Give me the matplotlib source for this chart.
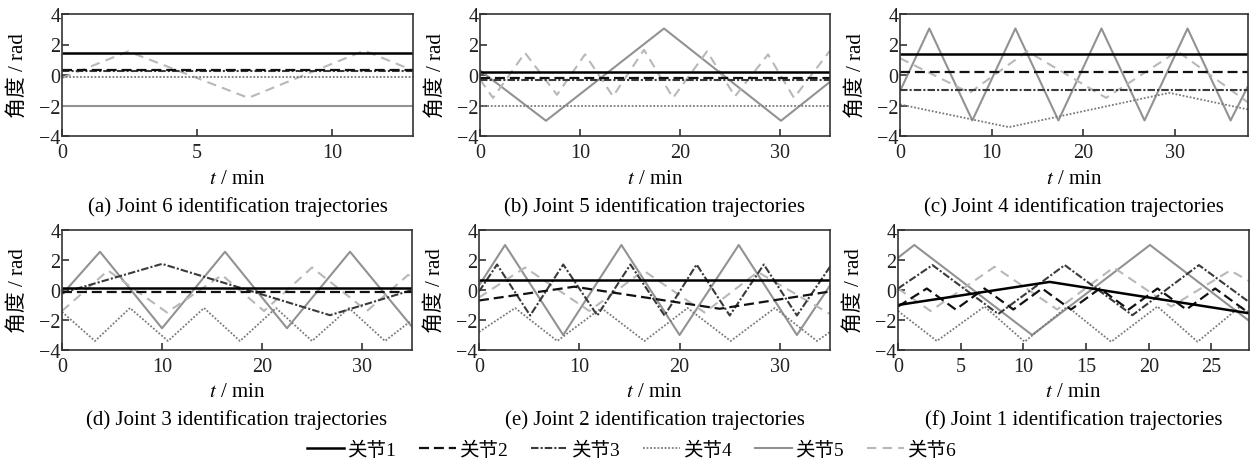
import matplotlib
matplotlib.use("Agg")
import matplotlib.pyplot as plt
from matplotlib.lines import Line2D

plt.rcParams['font.family'] = ['Liberation Serif', 'Noto Sans CJK SC']
plt.rcParams['mathtext.fontset'] = 'stix'
plt.rcParams['axes.unicode_minus'] = True

# ---- data: joint angles (rad) vs time (min), vertices of each trajectory ----
# (a) joint 6 identification
a_xmax = 13
a_t1, a_q1 = [0, 13], [1.45, 1.45]
a_t2, a_q2 = [0, 13], [0.35, 0.35]
a_t3, a_q3 = [0, 13], [0.25, 0.25]
a_t4, a_q4 = [0, 13], [-0.15, -0.15]
a_t5, a_q5 = [0, 13], [-2.05, -2.05]
a_t6 = [0, 2.45, 6.9, 11.2, 13]
a_q6 = [-0.2, 1.55, -1.5, 1.6, 0.3]

# (b) joint 5 identification
b_xmax = 35
b_t1, b_q1 = [0, 35], [0.2, 0.2]
b_t2, b_q2 = [0, 35], [-0.2, -0.2]
b_t3, b_q3 = [0, 35], [-0.3, -0.3]
b_t4, b_q4 = [0, 35], [-2.0, -2.0]
b_t5 = [0, 6.6, 18.4, 30.1, 35]
b_q5 = [0.3, -3.0, 3.05, -3.0, -0.45]
b_t6 = [0, 1.3, 4.5, 7.7, 10.5, 13.3, 16.4, 19.3, 22.7, 25.5, 28.8, 31.4, 35]
b_q6 = [-0.3, -1.5, 1.45, -1.3, 1.35, -1.4, 1.65, -1.5, 1.55, -1.4, 1.35, -1.5, 1.6]

# (c) joint 4 identification
c_xmax = 38
c_t1, c_q1 = [0, 38], [1.4, 1.4]
c_t2, c_q2 = [0, 38], [0.2, 0.2]
c_t3, c_q3 = [0, 38], [-1.0, -1.0]
c_t4 = [0, 11.9, 29.4, 38]
c_q4 = [-1.93, -3.42, -1.17, -2.26]
c_t5 = [0, 3.2, 7.9, 12.6, 17.3, 22.0, 26.7, 31.4, 36.1, 38]
c_q5 = [-1.06, 3.05, -2.98, 3.05, -2.98, 3.05, -2.98, 3.05, -2.98, -0.73]
c_t6 = [0, 7.6, 13.9, 22.5, 30.3, 38]
c_q6 = [1.1, -1.17, 1.56, -1.5, 1.56, -1.8]

# (d) joint 3 identification
d_xmax = 35
d_t1, d_q1 = [0, 35], [0.16, 0.16]
d_t2, d_q2 = [0, 35], [-0.1, -0.1]
d_t3 = [0, 10.0, 26.8, 35]
d_q3 = [-0.2, 1.74, -1.68, 0.0]
d_t4 = [0, 3.3, 6.8, 10.6, 14.2, 17.8, 21.4, 25.0, 28.7, 32.3, 35]
d_q4 = [-1.46, -3.4, -1.2, -3.4, -1.2, -3.4, -1.2, -3.4, -1.2, -3.4, -2.0]
d_t5 = [0, 3.8, 10.0, 16.3, 22.5, 28.8, 35]
d_q5 = [-0.3, 2.55, -2.55, 2.55, -2.55, 2.55, -2.45]
d_t6 = [0, 4.6, 10.5, 16.0, 20.2, 25.0, 30.5, 34.6, 35]
d_q6 = [-1.4, 1.3, -1.5, 1.0, -1.4, 1.5, -1.4, 1.0, 0.9]

# (e) joint 2 identification
e_xmax = 35
e_t1, e_q1 = [0, 35], [0.7, 0.7]
e_t2 = [0, 9.5, 24.0, 35]
e_q2 = [-0.7, 0.22, -1.25, -0.1]
e_t3 = [0, 1.8, 5.1, 8.4, 11.8, 15.1, 18.5, 21.7, 25.0, 28.4, 31.7, 35]
e_q3 = [-0.1, 1.7, -1.7, 1.7, -1.7, 1.7, -1.7, 1.7, -1.7, 1.7, -1.7, 1.55]
e_t4 = [0, 3.6, 7.8, 12.2, 16.5, 20.8, 25.1, 29.5, 33.7, 35]
e_q4 = [-2.8, -1.2, -3.4, -1.2, -3.4, -1.2, -3.4, -1.2, -3.4, -2.8]
e_t5 = [0, 2.6, 8.4, 14.2, 20.0, 25.9, 31.7, 35]
e_q5 = [0.3, 3.0, -3.0, 3.0, -3.0, 3.0, -3.0, 0.3]
e_t6 = [0, 4.6, 11.0, 16.4, 22.5, 27.8, 35]
e_q6 = [-0.5, 1.5, -1.4, 1.3, -1.5, 1.2, -1.6]

# (f) joint 1 identification
f_xmax = 28
f_t1 = [0, 12.1, 28]
f_q1 = [-1.0, 0.54, -1.55]
f_t2 = [0, 2.3, 4.6, 6.9, 9.2, 11.5, 13.8, 16.1, 18.4, 20.7, 23.0, 25.3, 27.6, 28]
f_q2 = [-1.1, 0.1, -1.3, 0.1, -1.3, 0.1, -1.3, 0.1, -1.3, 0.1, -1.3, 0.1, -1.3, -1.1]
f_t3 = [0, 2.75, 8.0, 13.3, 18.7, 24.0, 28]
f_q3 = [0.1, 1.66, -1.6, 1.66, -1.68, 1.66, -0.8]
f_t4 = [0, 3.1, 6.9, 10.1, 13.5, 17.0, 20.7, 23.9, 27.3, 28]
f_q4 = [-1.4, -3.4, -1.1, -3.45, -1.1, -3.45, -1.1, -3.45, -1.1, -1.5]
f_t5 = [0, 1.3, 10.7, 20.1, 28]
f_q5 = [2.15, 3.0, -3.0, 3.0, -2.05]
f_t6 = [0, 2.6, 7.7, 12.7, 17.2, 21.8, 26.5, 28]
f_q6 = [0.1, -1.4, 1.55, -1.3, 1.5, -1.1, 1.3, 0.6]

x_ticks = {13: [0, 5, 10], 35: [0, 10, 20, 30], 38: [0, 10, 20, 30], 28: [0, 5, 10, 15, 20, 25]}
y_ticks = [-4, -2, 0, 2, 4]
captions = ['(a) Joint 6 identification trajectories', '(b) Joint 5 identification trajectories',
            '(c) Joint 4 identification trajectories', '(d) Joint 3 identification trajectories',
            '(e) Joint 2 identification trajectories', '(f) Joint 1 identification trajectories']
legend_labels = ['关节1', '关节2', '关节3', '关节4', '关节5', '关节6']

panels = [
    (a_xmax, [(a_t1, a_q1), (a_t2, a_q2), (a_t3, a_q3), (a_t4, a_q4), (a_t5, a_q5), (a_t6, a_q6)]),
    (b_xmax, [(b_t1, b_q1), (b_t2, b_q2), (b_t3, b_q3), (b_t4, b_q4), (b_t5, b_q5), (b_t6, b_q6)]),
    (c_xmax, [(c_t1, c_q1), (c_t2, c_q2), (c_t3, c_q3), (c_t4, c_q4), (c_t5, c_q5), (c_t6, c_q6)]),
    (d_xmax, [(d_t1, d_q1), (d_t2, d_q2), (d_t3, d_q3), (d_t4, d_q4), (d_t5, d_q5), (d_t6, d_q6)]),
    (e_xmax, [(e_t1, e_q1), (e_t2, e_q2), (e_t3, e_q3), (e_t4, e_q4), (e_t5, e_q5), (e_t6, e_q6)]),
    (f_xmax, [(f_t1, f_q1), (f_t2, f_q2), (f_t3, f_q3), (f_t4, f_q4), (f_t5, f_q5), (f_t6, f_q6)]),
]

# line styles per joint
styles = [
    dict(color='#000000', lw=1.8, ls='-'),
    dict(color='#111111', lw=1.6, dashes=(4.5, 2.2)),
    dict(color='#3a3a3a', lw=1.5, dashes=(3.6, 1.0, 1.0, 1.0)),
    dict(color='#7a7a7a', lw=1.3, dashes=(1.0, 1.0)),
    dict(color='#929292', lw=1.5, ls='-'),
    dict(color='#b8b8b8', lw=1.5, dashes=(4.5, 3.0)),
]
draw_order = [4, 5, 3, 2, 1, 0]

W, H = 1250, 464
FS = 15
fig = plt.figure(figsize=(W / 100, H / 100), dpi=100)

# axes boxes in pixels: left, right, top, bottom
boxes = [(62, 413, 15, 137), (480, 830, 15, 137), (900, 1248, 15, 137),
         (62, 412, 231, 351), (479, 830, 231, 351), (898, 1249, 231, 351)]
xlab_y = [180, 180, 180, 393, 393, 393]
cap_y = [207, 207, 207, 420, 420, 420]

for i, ((xmax, series), (l, r, t, b)) in enumerate(zip(panels, boxes)):
    ax = fig.add_axes([l / W, 1 - b / H, (r - l) / W, (b - t) / H])
    for j in draw_order:
        tt, qq = series[j]
        ax.plot(tt, qq, solid_capstyle='butt', dash_capstyle='butt', **styles[j])
    ax.set_xlim(0, xmax)
    ax.set_ylim(-4, 4)
    ax.set_xticks(x_ticks[xmax])
    ax.set_yticks(y_ticks)
    ax.tick_params(direction='in', length=5, width=1.1, labelsize=14.5,
                   colors='#222222', top=False, right=False)
    ax.tick_params(axis='x', pad=5)
    ax.tick_params(axis='y', pad=1)
    for sp in ax.spines.values():
        sp.set_color('#333333')
        sp.set_linewidth(1.2)
    ax.set_ylabel('角度 / rad', fontsize=FS)
    ax.yaxis.set_label_coords(-34 / (r - l), 0.5)
    cx = (l + r) / 2 / W
    fig.text(cx, 1 - xlab_y[i] / H, '$t$ / min', fontsize=FS, ha='center', va='center')
    fig.text(cx, 1 - cap_y[i] / H, captions[i], fontsize=FS, ha='center', va='center')

handles = [Line2D([], [], **styles[j]) for j in range(6)]
fig.legend(handles, legend_labels, loc='center', bbox_to_anchor=(0.505, 1 - 451 / H),
           ncol=6, frameon=False, fontsize=14, handlelength=1.9, handletextpad=0.15,
           columnspacing=1.2, borderpad=0)

fig.savefig('out.png', dpi=100)
